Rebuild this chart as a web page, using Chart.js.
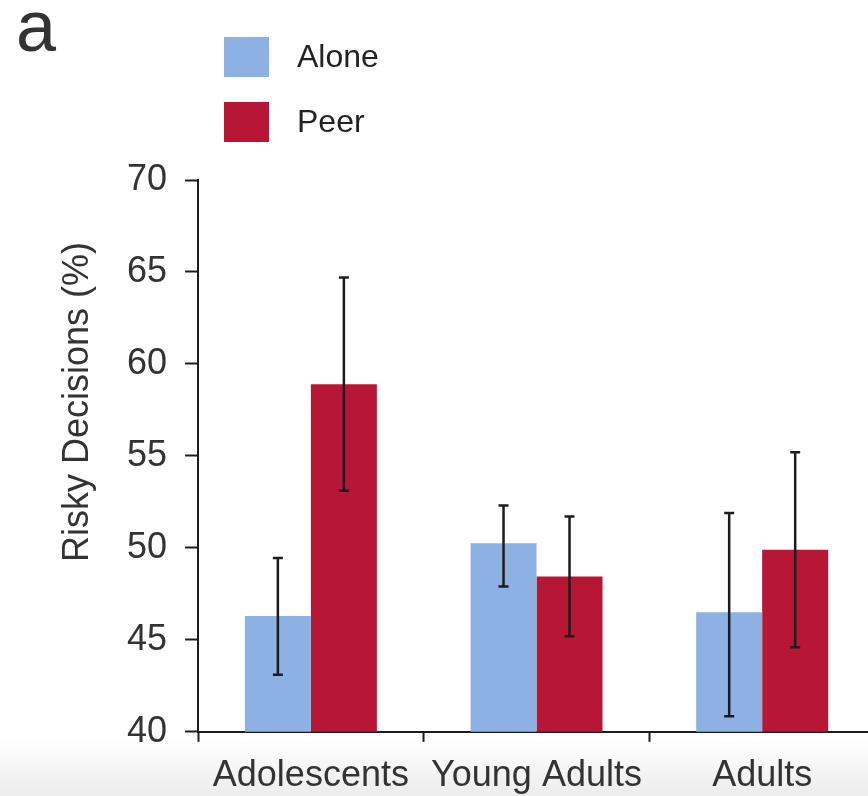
<!DOCTYPE html>
<html>
<head>
<meta charset="utf-8">
<script src="https://cdn.jsdelivr.net/npm/chart.js@4"></script>
<style>
  html, body {
    margin: 0;
    padding: 0;
    overflow: hidden;
    background: linear-gradient(to bottom, #ffffff 0px, #ffffff 738px, #ececec 796px);
    height: 796px;
  }
  #wrap {
    position: absolute;
    left: 0;
    top: 0;
    width: 880px;
    height: 811px;
  }
</style>
</head>
<body>
<div id="wrap"><canvas id="graphic"></canvas></div>
<script>
// data
let groups = ["Adolescents", "Young Adults", "Adults"]
let seriesNames = ["Alone", "Peer"]
let alone = [46.3, 50.25, 46.5]
let aloneLow = [43.1, 47.9, 40.85]
let aloneHigh = [49.45, 52.3, 51.9]
let peer = [58.9, 48.45, 49.9]
let peerLow = [53.1, 45.2, 44.6]
let peerHigh = [64.7, 51.7, 55.2]
let yTicks = [40, 45, 50, 55, 60, 65, 70]

let aloneColor = "rgb(141,177,226)"
let peerColor = "rgb(183,22,52)"
let inkColor = "#333333"

Chart.defaults.font.family = "'Liberation Sans', Arial, sans-serif"
Chart.defaults.color = inkColor

// error bars, legend, axis title and panel letter
const extras = {
    id: "extras",
    afterDatasetsDraw(chart) {
        const ctx = chart.ctx
        const y = chart.scales.y
        const lows = [aloneLow, peerLow]
        const highs = [aloneHigh, peerHigh]
        ctx.save()
        ctx.strokeStyle = "#1c1c1c"
        ctx.lineWidth = 2.5
        chart.data.datasets.forEach((ds, d) => {
            chart.getDatasetMeta(d).data.forEach((bar, i) => {
                let top = y.getPixelForValue(highs[d][i])
                let bottom = y.getPixelForValue(lows[d][i])
                ctx.beginPath()
                ctx.moveTo(bar.x, top)
                ctx.lineTo(bar.x, bottom)
                ctx.moveTo(bar.x - 5, top)
                ctx.lineTo(bar.x + 5, top)
                ctx.moveTo(bar.x - 5, bottom)
                ctx.lineTo(bar.x + 5, bottom)
                ctx.stroke()
            })
        })
        ctx.restore()
    },
    afterDraw(chart) {
        const ctx = chart.ctx
        ctx.save()
        // legend, stacked vertically
        ctx.font = "32px 'Liberation Sans'"
        ctx.textBaseline = "middle"
        ctx.textAlign = "left"
        chart.data.datasets.forEach((ds, d) => {
            let cy = 57 + d * 65
            ctx.fillStyle = ds.backgroundColor
            ctx.fillRect(224, cy - 20, 45, 40)
            ctx.fillStyle = "#222222"
            ctx.fillText(ds.label, 297, cy + 1)
        })
        // panel letter
        ctx.fillStyle = inkColor
        ctx.font = "72px 'Liberation Sans'"
        ctx.textBaseline = "alphabetic"
        ctx.fillText("a", 16, 51)
        // y axis title
        ctx.translate(88, 402)
        ctx.rotate(-Math.PI / 2)
        ctx.font = "36px 'Liberation Sans'"
        ctx.textAlign = "center"
        ctx.fillText("Risky Decisions (%)", 0, 0)
        ctx.restore()
    },
}

const chartID = document.getElementById("graphic").getContext("2d")
let graphic = new Chart(chartID, {
    type: "bar",
    data: {
        labels: groups,
        datasets: [
            {
                label: seriesNames[0],
                data: alone,
                backgroundColor: aloneColor,
                borderWidth: 0,
            },
            {
                label: seriesNames[1],
                data: peer,
                backgroundColor: peerColor,
                borderWidth: 0,
            },
        ],
    },
    options: {
        responsive: true,
        maintainAspectRatio: false,
        animation: false,
        layout: {
            padding: { top: 180, left: 109, right: 5, bottom: 0 },
        },
        plugins: {
            legend: { display: false },
            tooltip: { enabled: false },
        },
        datasets: {
            bar: {
                categoryPercentage: 0.585,
                barPercentage: 1.0,
            },
        },
        scales: {
            x: {
                grid: {
                    offset: true,
                    drawOnChartArea: false,
                    tickLength: 10,
                    tickWidth: 2,
                    tickColor: "#1c1c1c",
                },
                border: { color: "#1c1c1c", width: 2 },
                ticks: {
                    padding: 13,
                    color: inkColor,
                    font: { size: 36 },
                    maxRotation: 0,
                },
            },
            y: {
                min: 40,
                max: 70,
                afterBuildTicks(axis) {
                    axis.ticks = yTicks.map((v) => ({ value: v }))
                },
                grid: {
                    drawOnChartArea: false,
                    tickLength: 13,
                    tickWidth: 2,
                    tickColor: "#1c1c1c",
                },
                border: { color: "#1c1c1c", width: 2 },
                ticks: {
                    padding: 18,
                    color: inkColor,
                    font: { size: 36 },
                },
            },
        },
    },
    plugins: [extras],
})
</script>
</body>
</html>
